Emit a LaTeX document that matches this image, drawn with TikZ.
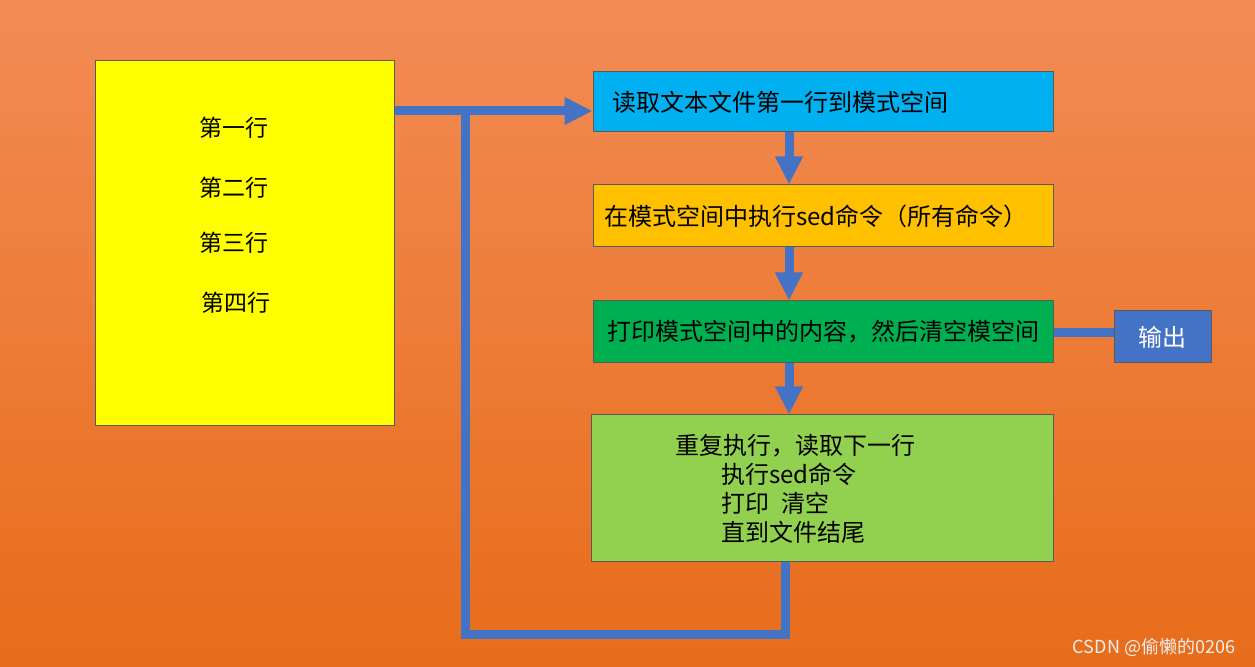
\documentclass[tikz,border=0pt]{standalone}
\usepackage{fontspec}
\setmainfont{Noto Sans CJK SC}
\usepackage{xcolor}
\usetikzlibrary{arrows.meta, positioning, calc}
\definecolor{bgtop}{HTML}{F28C55}
\definecolor{bgbottom}{HTML}{E86C1A}
\definecolor{fileyellow}{HTML}{FFFF00}
\definecolor{readblue}{HTML}{00B0F0}
\definecolor{execorange}{HTML}{FFC000}
\definecolor{printgreen}{HTML}{00B050}
\definecolor{loopgreen}{HTML}{92D050}
\definecolor{flowblue}{HTML}{4472C4}
\definecolor{edgegray}{HTML}{5A5A5A}

\begin{document}
\begin{tikzpicture}[x=0.5pt, y=-0.5pt,
    box/.style={rectangle, draw=edgegray, line width=0.5pt, fill=#1, font=\fontsize{12}{14.5}\selectfont, align=left},
    flow/.style={line width=4.5pt, color=flowblue},
    arrow/.style={flow, -{Triangle[width=13pt, length=14pt]}}
]

% Background
\shade[top color=bgtop, bottom color=bgbottom] (0,0) rectangle (1255,667);
\useasboundingbox (0,0) rectangle (1255,667);

% Text file
\node[box=fileyellow, minimum width=149.5pt, minimum height=182.5pt] (file) at (244.5,243.5) {};
\node[font=\fontsize{11.5}{14}\selectfont] (line1) at (234,128) {第一行};
\node[font=\fontsize{11.5}{14}\selectfont] (line2) at (234,188) {第二行};
\node[font=\fontsize{11.5}{14}\selectfont] (line3) at (234,243) {第三行};
\node[font=\fontsize{11.5}{14}\selectfont] (line4) at (236,303) {第四行};

% Processing steps
\node[box=readblue, minimum height=30pt, text width=211pt, inner xsep=9.5pt] (read) at (823,102) {读取文本文件第一行到模式空间};
\node[box=execorange, minimum height=31pt, text width=219pt, inner xsep=5.5pt] (exec) at (823,216) {在模式空间中执行sed命令（所有命令）};
\node[box=printgreen, minimum height=31pt, text width=216pt, inner xsep=7pt] (print) at (823,332) {打印模式空间中的内容，然后清空模空间};
\node[box=loopgreen, minimum height=73.5pt, text width=147pt, inner xsep=42pt] (repeat) at (822,488.5)
    {重复执行，读取下一行\\\hspace*{23pt}执行sed命令\\\hspace*{23pt}打印\hspace{0.5em}清空\\\hspace*{23pt}直到文件结尾};
\node[box=flowblue, text=white, minimum width=48.5pt, minimum height=26pt, align=center] (out) at (1162.5,337) {输出};

% Connectors
\coordinate (col) at (789,0);
\coordinate (feed) at (465,111);
\coordinate (base) at (465,635);
\draw[arrow] (file.east |- feed) -- (read.west |- feed);
\draw[arrow] (read.south -| col) -- (exec.north -| col);
\draw[arrow] (exec.south -| col) -- (print.north -| col);
\draw[arrow] (print.south -| col) -- (repeat.north -| col);
\draw[flow] (print.east |- 0,333) -- (out.west |- 0,333);
\draw[flow] (repeat.south -| 785,0) -- (785,635) -- (base) -- (feed);

% Watermark
\node[font=\fontsize{9}{11}\selectfont, color=white!88!gray] (mark) at (1154,647) {CSDN @偷懒的0206};

\end{tikzpicture}
\end{document}
